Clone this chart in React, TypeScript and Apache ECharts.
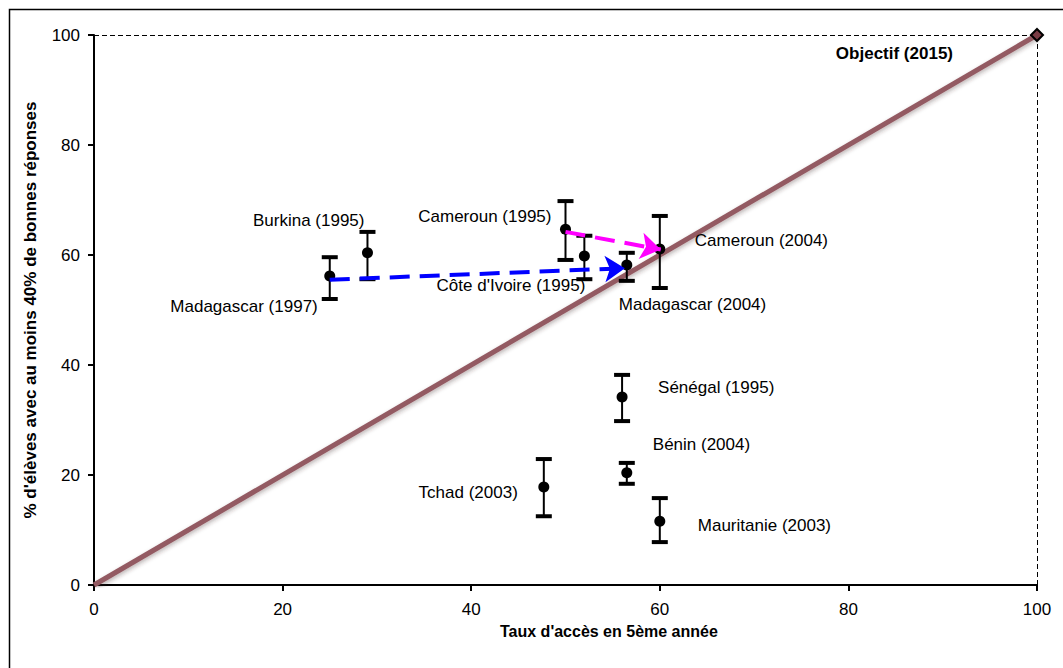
import React, { useEffect, useRef } from "react";
import * as echarts from "echarts";

const countryLabels = [
  "Madagascar (1997)",
  "Burkina (1995)",
  "Cameroun (1995)",
  "Côte d'Ivoire (1995)",
  "Madagascar (2004)",
  "Cameroun (2004)",
  "Sénégal (1995)",
  "Bénin (2004)",
  "Tchad (2003)",
  "Mauritanie (2003)",
];
const accessRate = [25, 29, 50, 52, 56.5, 60, 56, 56.5, 47.7, 60];
const meanScore = [56.2, 60.4, 64.7, 59.8, 58.2, 61.1, 34.2, 20.4, 17.8, 11.6];
const lowScore = [52.0, 55.6, 59.1, 55.6, 55.3, 54.0, 29.8, 18.4, 12.5, 7.8];
const highScore = [59.6, 64.2, 69.8, 63.5, 60.4, 67.1, 38.2, 22.2, 22.9, 15.8];

const blueArrow = [[25, 55.5], [56.3, 57.6]];
const magentaArrow = [[50, 64.2], [60.1, 61.0]];
const diagonal = [[0, 0], [100, 100]];
const goal = [100, 100];
const goalLabel = "Objectif (2015)";
const xTicks = [0, 20, 40, 60, 80, 100];
const yTicks = [0, 20, 40, 60, 80, 100];
const xTitle = "Taux d'accès en 5ème année";
const yTitle = "% d'élèves avec au moins 40% de bonnes réponses";

// label placement styles (align, dx, dy) per country
const labelStyle: [string, number, number][] = [
  ["right", -12, 31],
  ["right", -3, -32],
  ["right", -14, -13],
  ["right", 1, 29],
  ["left", -8, 40],
  ["left", 35, -8],
  ["left", 36, -9],
  ["left", 26, -28],
  ["right", -26, 5],
  ["left", 38, 4],
];

const FONT = "'Liberation Sans', Arial, sans-serif";

export default function App() {
  const ref = useRef<HTMLDivElement>(null);
  useEffect(() => {
    if (!ref.current) return;
    const chart = echarts.init(ref.current, null, { renderer: "svg" });
    const errData = accessRate.map((x, i) => [x, meanScore[i], lowScore[i], highScore[i]]);
    const pointData = accessRate.map((x, i) => ({
      name: countryLabels[i],
      value: [x, meanScore[i]],
      label: {
        align: labelStyle[i][0],
        offset: [labelStyle[i][1], labelStyle[i][2]],
      },
    }));
    chart.setOption({
      animation: false,
      textStyle: { fontFamily: FONT },
      grid: { left: 94, right: 26, top: 35, bottom: 83 },
      xAxis: {
        type: "value",
        min: 0,
        max: 100,
        interval: 20,
        axisLine: { onZero: false, lineStyle: { color: "#000", width: 2 } },
        axisTick: { show: true, length: 6, lineStyle: { color: "#000", width: 2 } },
        axisLabel: { color: "#000", fontSize: 17, margin: 16, fontFamily: FONT,
          formatter: (v: number) => (xTicks.includes(v) ? String(v) : "") },
        splitLine: { show: false },
      },
      yAxis: {
        type: "value",
        min: 0,
        max: 100,
        interval: 20,
        axisLine: { show: true, onZero: false, lineStyle: { color: "#000", width: 2 } },
        axisTick: { show: true, length: 6, lineStyle: { color: "#000", width: 2 } },
        axisLabel: { color: "#000", fontSize: 17, margin: 14, fontFamily: FONT,
          formatter: (v: number) => (yTicks.includes(v) ? String(v) : "") },
        splitLine: { show: false },
        name: yTitle,
        nameLocation: "middle",
        nameGap: 55,
        nameRotate: 90,
        nameTextStyle: { color: "#000", fontSize: 17, fontWeight: "bold", fontFamily: FONT },
      },
      graphic: [
        {
          type: "rect",
          shape: { x: 9.5, y: 9.5, width: 1100, height: 700 },
          style: { fill: "none", stroke: "#000", lineWidth: 1.5 },
          silent: true,
        },
        {
          type: "text",
          left: 500,
          top: 623,
          style: { text: xTitle, fill: "#000", font: `bold 16px ${FONT}` },
        },
      ],
      series: [
        {
          type: "line",
          data: diagonal,
          symbol: "none",
          z: 1,
          lineStyle: {
            color: "#935a62",
            width: 5,
            shadowColor: "rgba(60,40,45,0.35)",
            shadowBlur: 4,
            shadowOffsetX: 1,
            shadowOffsetY: 2,
          },
          markLine: {
            silent: true,
            symbol: "none",
            label: { show: false },
            lineStyle: { color: "#000", type: [5, 3], width: 1 },
            data: [
              [{ coord: [0, 100] }, { coord: [100, 100] }],
              [{ coord: [100, 0] }, { coord: [100, 100] }],
            ],
          },
        },
        {
          type: "scatter",
          data: [goal],
          symbol: "diamond",
          symbolSize: 12,
          z: 5,
          itemStyle: { color: "#7a3c45", borderColor: "#000", borderWidth: 2, opacity: 1 },
          label: {
            show: true,
            formatter: goalLabel,
            position: "inside",
            align: "right",
            verticalAlign: "middle",
            offset: [-84, 18],
            color: "#000",
            fontSize: 17,
            fontWeight: "bold",
            fontFamily: FONT,
          },
        },
        {
          type: "custom",
          data: errData,
          z: 3,
          renderItem: (params: any, api: any) => {
            const x = api.value(0);
            const top = api.coord([x, api.value(3)]);
            const bot = api.coord([x, api.value(2)]);
            const w = 16;
            const h = 4;
            return {
              type: "group",
              children: [
                { type: "line", shape: { x1: top[0], y1: top[1], x2: bot[0], y2: bot[1] },
                  style: { stroke: "#000", lineWidth: 2 } },
                { type: "rect", shape: { x: top[0] - w / 2, y: top[1] - h / 2, width: w, height: h },
                  style: { fill: "#000" } },
                { type: "rect", shape: { x: bot[0] - w / 2, y: bot[1] - h / 2, width: w, height: h },
                  style: { fill: "#000" } },
              ],
            };
          },
        },
        {
          type: "scatter",
          data: pointData,
          symbolSize: 11,
          z: 4,
          itemStyle: { color: "#000", opacity: 1 },
          label: {
            show: true,
            formatter: (p: any) => p.name,
            position: "inside",
            verticalAlign: "middle",
            color: "#000",
            fontSize: 17,
            fontFamily: FONT,
          },
        },
        {
          type: "lines",
          coordinateSystem: "cartesian2d",
          z: 6,
          symbol: ["none", "arrow"],
          symbolSize: [16, 20],
          lineStyle: { color: "#0000ff", width: 4, type: [20, 10], opacity: 1, curveness: 0 },
          data: [{ coords: blueArrow }],
        },
        {
          type: "lines",
          coordinateSystem: "cartesian2d",
          z: 6,
          symbol: ["none", "arrow"],
          symbolSize: [16, 20],
          lineStyle: { color: "#ff00ff", width: 4, type: [20, 10], opacity: 1, curveness: 0 },
          data: [{ coords: magentaArrow }],
        },
      ],
    });
    return () => chart.dispose();
  }, []);
  return (
    <div
      ref={ref}
      style={{ position: "absolute", left: 0, top: 0, width: 1063, height: 668, background: "#fff" }}
    />
  );
}
